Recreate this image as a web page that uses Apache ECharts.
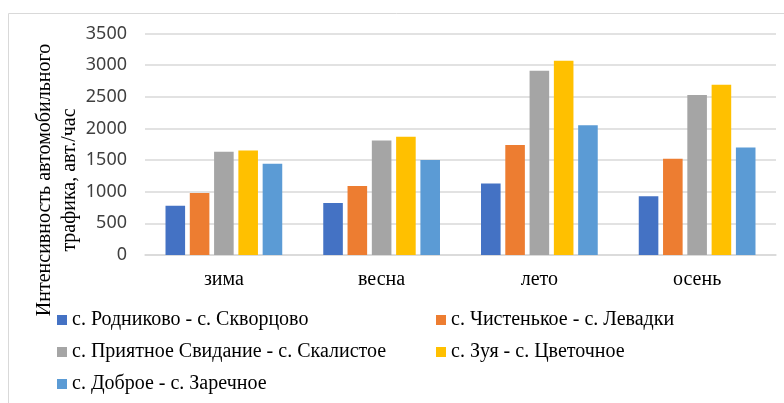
<!DOCTYPE html>
<html>
<head>
<meta charset="utf-8">
<script src="https://cdn.jsdelivr.net/npm/echarts@6/dist/echarts.min.js"></script>
<style>
html,body{margin:0;padding:0;background:#fff;}
#chart{width:784px;height:403px;}
</style>
</head>
<body>
<div id="chart"></div>
<script>
var categories = ['зима', 'весна', 'лето', 'осень'];
var seriesNames = [
  'с. Родниково - с. Скворцово',
  'с. Чистенькое - с. Левадки',
  'с. Приятное Свидание - с. Скалистое',
  'с. Зуя - с. Цветочное',
  'с. Доброе - с. Заречное'
];
var rodnikovo = [780, 820, 1130, 930];
var chistenkoe = [980, 1090, 1740, 1520];
var priyatnoe = [1630, 1810, 2910, 2530];
var zuya = [1650, 1870, 3070, 2690];
var dobroe = [1440, 1500, 2050, 1700];
var yTicks = [0, 500, 1000, 1500, 2000, 2500, 3000, 3500];
var colors = ['#4472C4', '#ED7D31', '#A5A5A5', '#FFC000', '#5B9BD5'];
var values = [rodnikovo, chistenkoe, priyatnoe, zuya, dobroe];

var chart = echarts.init(document.getElementById('chart'));
var serif = '"Liberation Serif", "Times New Roman", serif';
var legendText = {fontFamily: serif, fontSize: 20, color: '#000', lineHeight: 20};

chart.setOption({
  animation: false,
  color: colors,
  grid: {left: 145, right: 8, top: 33.5, bottom: 148, containLabel: false},
  graphic: [
    {type: 'rect', shape: {x: 8.5, y: 13.5, width: 900, height: 500}, style: {fill: 'none', stroke: '#D9D9D9', lineWidth: 1}, silent: true, z: -1},
    {type: 'text', x: 57, y: 180, rotation: Math.PI / 2,
     style: {text: 'Интенсивность автомобильного\nтрафика, авт./час', align: 'center', verticalAlign: 'middle',
             font: '20px ' + serif, lineHeight: 25, fill: '#000'}}
  ],
  legend: [
    {orient: 'vertical', left: 57, top: 310, padding: 0, itemWidth: 10, itemHeight: 10, itemGap: 12, icon: 'rect',
     data: [seriesNames[0], seriesNames[2], seriesNames[4]], textStyle: legendText},
    {orient: 'vertical', left: 436, top: 310, padding: 0, itemWidth: 10, itemHeight: 10, itemGap: 12, icon: 'rect',
     data: [seriesNames[1], seriesNames[3]], textStyle: legendText}
  ],
  xAxis: {
    type: 'category', data: categories,
    axisLine: {show: true, lineStyle: {color: '#D9D9D9', width: 1.5}},
    axisTick: {show: false},
    axisLabel: {fontFamily: serif, fontSize: 20, color: '#000', margin: 15}
  },
  yAxis: {
    type: 'value', min: yTicks[0], max: yTicks[yTicks.length - 1], interval: 500,
    axisLine: {show: false}, axisTick: {show: false},
    splitLine: {lineStyle: {color: '#D9D9D9', width: 1.5}},
    axisLabel: {fontFamily: '"Noto Sans", sans-serif', fontSize: 18, color: '#404040', margin: 18,
                formatter: function (v) { return String(v); }}
  },
  series: values.map(function (v, i) {
    return {type: 'bar', name: seriesNames[i], data: v, barGap: '24%', barCategoryGap: '26%',
            itemStyle: {color: colors[i]}};
  })
});
</script>
</body>
</html>
